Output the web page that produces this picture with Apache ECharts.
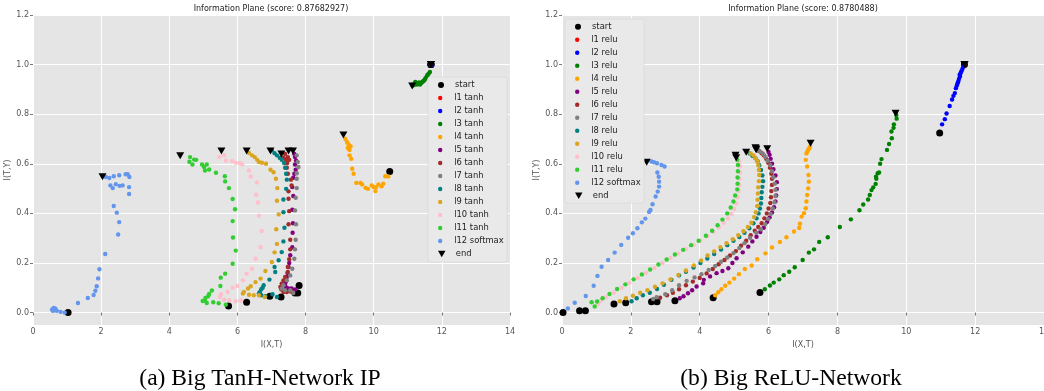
<!DOCTYPE html>
<html>
<head>
<meta charset="utf-8">
<script src="https://cdn.jsdelivr.net/npm/echarts@6/dist/echarts.min.js"></script>
<style>
  html, body { margin: 0; padding: 0; background: #ffffff; }
  #chart { width: 1044px; height: 391px; }
</style>
</head>
<body>
<div id="chart"></div>
<script>
// ---- Information-plane trajectories, one [I(X,T), I(T,Y)] pair per recorded epoch ----

// Big TanH network
const tanhStart = [[11.68,1.0],[11.68,1.0],[11.68,1.0],[10.47,0.569],[7.81,0.109],[7.77,0.079],[7.69,0.079],[7.28,0.063],[6.95,0.066],[6.27,0.042],[5.74,0.027],[1.03,0.0]];
const tanhEnd = [[11.68,1.0],[11.68,1.0],[11.13,0.914],[9.11,0.716],[7.63,0.652],[7.29,0.64],[7.5,0.652],[6.97,0.652],[6.27,0.652],[5.53,0.652],[4.32,0.632],[2.04,0.548]];
const tanhL1 = [[11.68,1.0],[11.69,0.998]];
const tanhL2 = [[11.68,0.999],[11.69,1.0]];
const tanhL3 = [[11.65,0.97],[11.61,0.963],[11.58,0.958],[11.56,0.953],[11.52,0.945],[11.5,0.94],[11.47,0.935],[11.44,0.932],[11.41,0.928],[11.38,0.925],[11.36,0.92],[11.33,0.928],[11.3,0.924],[11.27,0.92],[11.24,0.926],[11.22,0.93],[11.2,0.922],[11.18,0.918],[11.16,0.92],[11.14,0.916]];
const tanhL4 = [[9.17,0.70],[9.22,0.687],[9.26,0.678],[9.32,0.671],[9.24,0.664],[9.29,0.656],[9.29,0.634],[9.34,0.62],[9.37,0.58],[9.41,0.56],[9.49,0.523],[9.61,0.523],[9.66,0.517],[9.76,0.503],[9.83,0.499],[9.94,0.513],[10.0,0.506],[10.05,0.49],[10.07,0.506],[10.14,0.517],[10.23,0.509],[10.28,0.52],[10.34,0.55],[10.43,0.549]];
const tanhL5 = [[7.67,0.64],[7.69,0.627],[7.72,0.613],[7.69,0.597],[7.71,0.576],[7.67,0.56],[7.64,0.544],[7.61,0.506],[7.64,0.47],[7.61,0.415],[7.63,0.36],[7.62,0.322],[7.61,0.264],[7.55,0.231],[7.52,0.2],[7.5,0.184],[7.47,0.16],[7.45,0.144],[7.42,0.125],[7.4,0.117],[7.42,0.103],[7.5,0.097],[7.59,0.097],[7.69,0.093]];
const tanhL6 = [[7.35,0.625],[7.42,0.618],[7.4,0.64],[7.48,0.627],[7.52,0.616],[7.46,0.603],[7.45,0.584],[7.48,0.56],[7.57,0.536],[7.59,0.513],[7.5,0.489],[7.5,0.459],[7.52,0.409],[7.5,0.356],[7.55,0.294],[7.55,0.255],[7.52,0.215],[7.48,0.184],[7.48,0.164],[7.4,0.144],[7.35,0.13],[7.3,0.117],[7.26,0.103],[7.29,0.093],[7.35,0.083],[7.45,0.083],[7.55,0.086],[7.61,0.083]];
const tanhL7 = [[7.74,0.634],[7.77,0.607],[7.79,0.587],[7.74,0.562],[7.74,0.54],[7.74,0.502],[7.71,0.463],[7.69,0.412],[7.72,0.356],[7.71,0.294],[7.69,0.255],[7.67,0.217],[7.61,0.177],[7.55,0.15],[7.45,0.13],[7.35,0.11],[7.3,0.097],[7.4,0.09],[7.55,0.09],[7.64,0.079]];
const tanhL8 = [[7.01,0.654],[7.09,0.643],[7.16,0.634],[7.24,0.624],[7.3,0.616],[7.37,0.603],[7.4,0.584],[7.43,0.56],[7.45,0.536],[7.43,0.499],[7.35,0.456],[7.35,0.405],[7.38,0.342],[7.35,0.287],[7.3,0.244],[7.21,0.211],[7.09,0.184],[7.11,0.164],[6.94,0.133],[6.77,0.11],[6.74,0.1],[6.7,0.094],[6.66,0.083],[6.63,0.077],[6.7,0.07],[6.82,0.066],[7.03,0.074],[7.16,0.063]];
const tanhL9 = [[6.34,0.644],[6.43,0.634],[6.51,0.627],[6.58,0.616],[6.63,0.607],[6.72,0.604],[6.84,0.6],[6.97,0.576],[7.06,0.566],[7.13,0.54],[7.17,0.502],[7.16,0.451],[7.21,0.396],[7.14,0.336],[7.16,0.277],[7.09,0.243],[7.01,0.204],[6.82,0.168],[6.68,0.137],[6.53,0.123],[6.39,0.106],[6.31,0.097],[6.19,0.083],[6.16,0.077],[6.34,0.072],[6.48,0.07],[6.63,0.07],[6.8,0.063]];
const tanhL10 = [[5.47,0.627],[5.61,0.634],[5.66,0.613],[5.84,0.611],[5.95,0.604],[6.07,0.603],[6.14,0.597],[6.34,0.573],[6.39,0.549],[6.57,0.525],[6.55,0.475],[6.6,0.444],[6.63,0.391],[6.71,0.329],[6.68,0.264],[6.53,0.217],[6.43,0.177],[6.27,0.157],[6.16,0.13],[6.0,0.107],[5.86,0.1],[5.71,0.083],[5.52,0.074],[5.49,0.063],[5.61,0.052],[5.76,0.05],[5.95,0.046],[6.1,0.05]];
const tanhL11 = [[4.61,0.627],[4.59,0.608],[4.68,0.597],[4.73,0.617],[4.79,0.616],[4.96,0.597],[5.1,0.597],[5.02,0.587],[5.05,0.573],[5.17,0.577],[5.37,0.564],[5.63,0.55],[5.64,0.529],[5.75,0.502],[5.86,0.458],[5.93,0.417],[5.86,0.369],[5.87,0.303],[5.95,0.25],[5.86,0.197],[5.64,0.157],[5.51,0.141],[5.5,0.107],[5.25,0.089],[5.17,0.075],[5.14,0.066],[5.06,0.059],[4.98,0.047],[5.05,0.048],[5.1,0.039],[5.29,0.042],[5.45,0.038],[5.66,0.032]];
const tanhL12 = [[0.93,0.0],[0.81,0.003],[0.7,0.007],[0.66,0.016],[0.61,0.019],[0.56,0.013],[0.58,0.007],[0.63,0.009],[1.32,0.039],[1.61,0.059],[1.78,0.071],[1.83,0.088],[1.87,0.106],[1.91,0.138],[1.95,0.175],[2.12,0.236],[2.5,0.315],[2.53,0.365],[2.46,0.403],[2.37,0.43],[2.82,0.478],[2.82,0.506],[2.63,0.513],[2.54,0.511],[2.43,0.518],[2.34,0.502],[2.27,0.513],[2.72,0.558],[2.78,0.558],[2.83,0.547],[2.53,0.554],[2.37,0.55],[2.24,0.543],[2.14,0.547]];

// Big ReLU network
const reluStart = [[11.69,1.0],[10.97,0.724],[5.75,0.081],[4.39,0.06],[3.28,0.048],[2.76,0.044],[2.6,0.044],[1.85,0.04],[1.51,0.035],[0.68,0.007],[0.51,0.007],[0.03,0.0]];
const reluEnd = [[11.69,1.0],[11.69,1.0],[9.69,0.804],[7.22,0.683],[5.96,0.661],[5.64,0.66],[5.64,0.657],[5.62,0.665],[5.35,0.647],[5.06,0.624],[5.04,0.634],[2.46,0.606]];
const reluL1 = [[11.69,0.999],[11.68,1.0]];
const reluL2 = [[11.04,0.759],[11.12,0.78],[11.17,0.803],[11.26,0.833],[11.33,0.859],[11.37,0.874],[11.41,0.885],[11.44,0.905],[11.47,0.916],[11.49,0.925],[11.51,0.932],[11.53,0.942],[11.55,0.959],[11.56,0.952],[11.58,0.966],[11.6,0.973],[11.63,0.982],[11.66,0.991],[11.67,0.995]];
const reluL3 = [[9.71,0.797],[9.72,0.782],[9.64,0.759],[9.63,0.745],[9.57,0.73],[9.58,0.703],[9.5,0.68],[9.44,0.656],[9.28,0.619],[9.24,0.6],[9.21,0.565],[9.17,0.562],[9.12,0.548],[9.13,0.54],[9.11,0.519],[9.04,0.505],[8.99,0.494],[8.94,0.474],[8.89,0.456],[8.75,0.436],[8.64,0.413],[8.39,0.376],[8.07,0.345],[7.72,0.304],[7.47,0.285],[7.32,0.255],[7.17,0.242],[6.99,0.212],[6.76,0.183],[6.6,0.165],[6.44,0.151],[6.31,0.134],[6.15,0.121],[6.04,0.109],[5.89,0.094]];
const reluL4 = [[7.2,0.669],[7.18,0.662],[7.15,0.656],[7.12,0.648],[7.1,0.642],[7.08,0.616],[7.12,0.589],[7.16,0.555],[7.17,0.528],[7.15,0.501],[7.12,0.474],[7.1,0.448],[7.08,0.421],[7.03,0.401],[6.96,0.387],[6.91,0.358],[6.89,0.341],[6.74,0.327],[6.52,0.304],[6.33,0.285],[6.1,0.263],[5.91,0.239],[5.67,0.215],[5.51,0.19],[5.31,0.176],[5.14,0.155],[5.0,0.137],[4.86,0.121],[4.74,0.108],[4.63,0.094],[4.54,0.082],[4.45,0.07]];
const reluL5 = [[6.0,0.648],[6.03,0.636],[6.06,0.62],[6.1,0.6],[6.14,0.578],[6.2,0.553],[6.24,0.526],[6.24,0.498],[6.22,0.472],[6.2,0.448],[6.16,0.425],[6.1,0.404],[6.03,0.384],[5.96,0.366],[5.86,0.342],[5.76,0.325],[5.65,0.306],[5.53,0.287],[5.41,0.266],[5.25,0.243],[5.07,0.219],[4.95,0.2],[4.83,0.179],[4.66,0.168],[4.49,0.159],[4.3,0.146],[4.12,0.132],[4.1,0.118],[3.91,0.105],[3.78,0.09],[3.66,0.078],[3.53,0.066],[3.42,0.058]];
const reluL6 = [[5.72,0.652],[5.8,0.643],[5.86,0.634],[5.93,0.62],[5.99,0.604],[6.04,0.584],[6.08,0.56],[6.1,0.54],[6.1,0.515],[6.08,0.49],[6.07,0.465],[6.05,0.442],[6.0,0.42],[5.95,0.4],[5.88,0.38],[5.8,0.36],[5.7,0.345],[5.6,0.33],[5.48,0.312],[5.35,0.29],[5.2,0.27],[5.05,0.248],[4.88,0.23],[4.72,0.212],[4.55,0.195],[4.38,0.176],[4.2,0.158],[4.0,0.14],[3.8,0.125],[3.6,0.11],[3.4,0.094],[3.22,0.08],[3.05,0.07],[2.85,0.06]];
const reluL7 = [[5.7,0.655],[5.76,0.648],[5.84,0.64],[5.9,0.628],[5.97,0.612],[6.05,0.594],[6.1,0.57],[6.14,0.546],[6.18,0.52],[6.2,0.495],[6.2,0.47],[6.17,0.445],[6.12,0.42],[6.06,0.398],[5.99,0.377],[5.9,0.356],[5.78,0.336],[5.64,0.322],[5.46,0.302],[5.3,0.28],[5.15,0.26],[4.98,0.24],[4.8,0.222],[4.62,0.205],[4.45,0.188],[4.26,0.172],[4.05,0.155],[3.85,0.142],[3.62,0.128],[3.4,0.11],[3.2,0.09],[3.0,0.074],[2.75,0.062],[2.65,0.055]];
const reluL8 = [[5.45,0.642],[5.53,0.632],[5.62,0.622],[5.68,0.61],[5.73,0.594],[5.78,0.575],[5.82,0.553],[5.84,0.53],[5.82,0.507],[5.8,0.485],[5.79,0.462],[5.78,0.44],[5.75,0.42],[5.71,0.4],[5.65,0.38],[5.56,0.36],[5.44,0.34],[5.3,0.322],[5.15,0.305],[4.98,0.29],[4.8,0.272],[4.62,0.254],[4.42,0.236],[4.22,0.218],[4.02,0.2],[3.82,0.182],[3.6,0.165],[3.4,0.15],[3.18,0.132],[2.96,0.112],[2.76,0.095],[2.55,0.08],[2.35,0.07],[2.17,0.058],[2.02,0.046]];
const reluL9 = [[5.48,0.642],[5.56,0.634],[5.62,0.622],[5.67,0.61],[5.7,0.594],[5.72,0.575],[5.73,0.555],[5.72,0.53],[5.7,0.505],[5.69,0.48],[5.68,0.455],[5.67,0.43],[5.63,0.405],[5.58,0.385],[5.5,0.362],[5.4,0.345],[5.27,0.328],[5.12,0.312],[4.96,0.296],[4.78,0.28],[4.6,0.264],[4.42,0.247],[4.23,0.23],[4.04,0.21],[3.83,0.19],[3.6,0.17],[3.38,0.152],[3.15,0.134],[2.92,0.118],[2.7,0.104],[2.48,0.09],[2.27,0.08],[2.06,0.068],[1.86,0.058],[1.68,0.046]];
const reluL10 = [[5.14,0.61],[5.17,0.59],[5.17,0.565],[5.16,0.54],[5.15,0.515],[5.13,0.49],[5.1,0.465],[5.06,0.44],[5.0,0.418],[4.92,0.398],[4.82,0.38],[4.7,0.362],[4.56,0.344],[4.4,0.326],[4.22,0.308],[4.02,0.29],[3.82,0.273],[3.6,0.256],[3.38,0.238],[3.15,0.22],[2.92,0.2],[2.68,0.18],[2.44,0.16],[2.2,0.14],[1.96,0.12],[1.73,0.1],[1.5,0.08],[1.28,0.062],[1.12,0.048],[1.05,0.035]];
const reluL11 = [[5.09,0.616],[5.11,0.595],[5.11,0.57],[5.1,0.545],[5.1,0.52],[5.09,0.497],[5.03,0.472],[4.98,0.448],[4.9,0.424],[4.8,0.4],[4.66,0.375],[4.52,0.352],[4.36,0.33],[4.18,0.31],[3.97,0.29],[3.75,0.272],[3.52,0.253],[3.28,0.234],[3.04,0.214],[2.8,0.194],[2.56,0.174],[2.32,0.154],[2.08,0.134],[1.84,0.114],[1.6,0.095],[1.38,0.075],[1.18,0.058],[1.02,0.045],[0.86,0.042],[0.95,0.025]];
const reluL12 = [[2.6,0.609],[2.67,0.606],[2.76,0.602],[2.89,0.595],[2.98,0.589],[2.77,0.565],[2.81,0.548],[2.82,0.528],[2.82,0.508],[2.78,0.488],[2.72,0.468],[2.63,0.437],[2.57,0.414],[2.53,0.406],[2.42,0.379],[2.32,0.364],[2.19,0.34],[2.06,0.32],[1.92,0.302],[1.72,0.273],[1.53,0.242],[1.34,0.212],[1.15,0.185],[1.03,0.148],[0.92,0.108],[0.69,0.067],[0.37,0.04],[0.17,0.017]];

// Legend labels and colours
const tanhNames = ['l1 tanh','l2 tanh','l3 tanh','l4 tanh','l5 tanh','l6 tanh','l7 tanh','l8 tanh','l9 tanh','l10 tanh','l11 tanh','l12 softmax'];
const reluNames = ['l1 relu','l2 relu','l3 relu','l4 relu','l5 relu','l6 relu','l7 relu','l8 relu','l9 relu','l10 relu','l11 relu','l12 softmax'];
const layerColors = ['#ff0000','#0000ff','#008000','#ffa500','#800080','#a52a2a','#808080','#008080','#daa520','#ffc0cb','#32cd32','#6495ed'];

// Axis ticks
const xTicks = [0, 2, 4, 6, 8, 10, 12, 14];
const yTicks = [0, 0.2, 0.4, 0.6, 0.8, 1.0, 1.2];

// Panel titles and captions
const panelTitles = ['Information Plane (score: 0.87682927)', 'Information Plane (score: 0.8780488)'];
const captions = ['(a) Big TanH-Network IP', '(b) Big ReLU-Network'];

const tanhLayers = [tanhL1, tanhL2, tanhL3, tanhL4, tanhL5, tanhL6, tanhL7, tanhL8, tanhL9, tanhL10, tanhL11, tanhL12];
const reluLayers = [reluL1, reluL2, reluL3, reluL4, reluL5, reluL6, reluL7, reluL8, reluL9, reluL10, reluL11, reluL12];

const FONT = 'DejaVu Sans';
const TRI_DOWN = 'path://M0,0L10,0L5,8.66Z';

const panels = [
  { left: 33, width: 477, start: tanhStart, end: tanhEnd, layers: tanhLayers, names: tanhNames,
    titleX: 271, captionX: 260, legendX: 438, legendTop: 85, frame: [428, 77, 79, 185] },
  { left: 562, width: 482, start: reluStart, end: reluEnd, layers: reluLayers, names: reluNames,
    titleX: 803, captionX: 791, legendX: 575, legendTop: 26.7, frame: [565, 19, 79, 184] }
];

const grids = [], xAxes = [], yAxes = [], series = [], legends = [], graphics = [];

panels.forEach(function (p, i) {
  grids.push({ left: p.left, top: 15, width: p.width, height: 310, show: true,
               backgroundColor: '#e5e5e5', borderWidth: 0, containLabel: false, outerBoundsMode: 'none' });
  xAxes.push({
    type: 'value', gridIndex: i, min: 0, max: 14, interval: 2,
    name: 'I(X,T)', nameLocation: 'middle', nameGap: 14,
    nameTextStyle: { fontFamily: FONT, fontSize: 8, color: '#555' },
    axisLine: { show: false },
    axisTick: { show: true, length: 3, lineStyle: { color: '#555', width: 0.8 } },
    axisLabel: { fontFamily: FONT, fontSize: 8, color: '#555', margin: 3, hideOverlap: false,
                 showMinLabel: true, showMaxLabel: true },
    splitLine: { show: true, lineStyle: { color: '#ffffff', width: 1 } }
  });
  yAxes.push({
    type: 'value', gridIndex: i, min: -0.05, max: 1.2,
    name: 'I(T,Y)', nameLocation: 'middle', nameGap: 20.5,
    nameTextStyle: { fontFamily: FONT, fontSize: 8, color: '#555' },
    axisLine: { show: false },
    axisTick: { show: true, length: 3, customValues: yTicks, lineStyle: { color: '#555', width: 0.8 } },
    axisLabel: { fontFamily: FONT, fontSize: 8, color: '#555', margin: 4, customValues: yTicks,
                 formatter: function (v) { return v.toFixed(1); } },
    splitLine: { show: true, lineStyle: { color: '#ffffff', width: 1 } }
  });

  series.push({ name: 'start', type: 'scatter', xAxisIndex: i, yAxisIndex: i, data: p.start,
                symbol: 'circle', symbolSize: 7, itemStyle: { color: '#000000', opacity: 1 }, z: 2 });
  p.layers.forEach(function (pts, k) {
    series.push({ name: p.names[k], type: 'scatter', xAxisIndex: i, yAxisIndex: i, data: pts,
                  symbol: 'circle', symbolSize: 4.4, itemStyle: { color: layerColors[k], opacity: 1 }, z: 2 });
  });
  series.push({ name: 'end', type: 'scatter', xAxisIndex: i, yAxisIndex: i, data: p.end,
                symbol: TRI_DOWN, symbolSize: [8, 7], itemStyle: { color: '#000000', opacity: 1 }, z: 2 });

  const common = { orient: 'vertical', left: p.legendX, padding: 0, itemWidth: 18, itemGap: 4,
                   selectedMode: false, z: 6,
                   textStyle: { fontFamily: FONT, fontSize: 8.4, color: '#222', lineHeight: 9 } };
  legends.push(Object.assign({}, common, { top: p.legendTop - 4.5, itemHeight: 6, icon: 'circle', data: ['start'] }));
  legends.push(Object.assign({}, common, { top: p.legendTop + 13 - 4.5, itemHeight: 4.4, icon: 'circle', data: p.names }));
  legends.push(Object.assign({}, common, { top: p.legendTop + 13 * 13 - 4.5, itemHeight: 6.5, icon: TRI_DOWN, data: ['end'] }));

  graphics.push({ type: 'rect', z: 5, shape: { x: p.frame[0], y: p.frame[1], width: p.frame[2], height: p.frame[3], r: 2 },
                  style: { fill: '#e9e9e9', stroke: '#dadada', lineWidth: 0.8 } });
  graphics.push({ type: 'text', z: 5, x: p.titleX, y: 9,
                  style: { text: panelTitles[i], fontFamily: FONT, fontSize: 8, fill: '#222',
                           align: 'center', verticalAlign: 'middle' } });
  graphics.push({ type: 'text', z: 5, x: p.captionX, y: 379,
                  style: { text: captions[i], fontFamily: 'Liberation Serif', fontSize: 23.6, fill: '#000',
                           align: 'center', verticalAlign: 'middle' } });
});

const chart = echarts.init(document.getElementById('chart'), null, { renderer: 'canvas' });
chart.setOption({
  animation: false,
  backgroundColor: '#ffffff',
  grid: grids,
  xAxis: xAxes,
  yAxis: yAxes,
  legend: legends,
  graphic: graphics,
  series: series
});
</script>
</body>
</html>
